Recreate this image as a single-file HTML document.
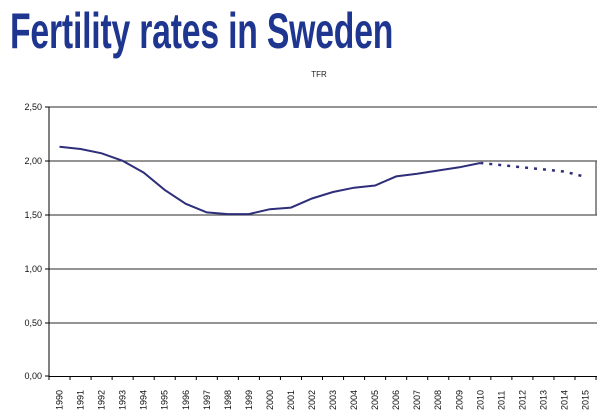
<!DOCTYPE html>
<html><head><meta charset="utf-8"><style>
html,body{margin:0;padding:0;background:#fff;}
body{width:600px;height:414px;overflow:hidden;position:relative;font-family:"Liberation Sans",sans-serif;}
.title{position:absolute;left:10px;top:2px;font-size:50px;font-weight:bold;color:#1f3690;transform:scaleX(0.675);transform-origin:0 0;white-space:nowrap;letter-spacing:-0.3px;}
</style></head><body>
<div class="title">Fertility rates in Sweden</div>
<svg width="600" height="414" style="position:absolute;left:0;top:0" font-family="Liberation Sans, sans-serif">
<text x="319" y="77" font-size="8" text-anchor="middle" fill="#222">TFR</text>
<g stroke="#555" stroke-width="1.3">
<line x1="49" y1="107" x2="597" y2="107"/>
<line x1="49" y1="161" x2="597" y2="161"/>
<line x1="49" y1="215" x2="597" y2="215"/>
<line x1="49" y1="269" x2="597" y2="269"/>
<line x1="49" y1="323" x2="597" y2="323"/>
<line x1="596" y1="161" x2="596" y2="215"/>
</g>
<g stroke="#000" stroke-width="1">
<line x1="49" y1="107" x2="49" y2="377"/>
<line x1="49" y1="376.5" x2="597" y2="376.5"/>
<line x1="45" y1="107" x2="49" y2="107"/><line x1="45" y1="161" x2="49" y2="161"/><line x1="45" y1="215" x2="49" y2="215"/><line x1="45" y1="269" x2="49" y2="269"/><line x1="45" y1="323" x2="49" y2="323"/><line x1="45" y1="376" x2="49" y2="376"/>
</g>
<g font-size="9" fill="#111" text-anchor="end">
<text x="42" y="110">2,50</text><text x="42" y="164">2,00</text><text x="42" y="218">1,50</text><text x="42" y="272">1,00</text><text x="42" y="326">0,50</text><text x="42" y="379">0,00</text>
</g>
<g id="t" stroke="#000" stroke-width="1"></g>
<g id="xl" font-size="9" fill="#111"></g>
<polyline id="solid" fill="none" stroke="#2e2e7a" stroke-width="2"/>
<polyline id="dash" fill="none" stroke="#2e2e7a" stroke-width="2.5" stroke-dasharray="3,6"/>
</svg>
<script>
var ns="http://www.w3.org/2000/svg",w=21.04,x0=49;
var v=[2.13,2.11,2.07,2.00,1.89,1.73,1.60,1.52,1.505,1.505,1.55,1.565,1.65,1.71,1.75,1.77,1.855,1.88,1.91,1.94,1.98,1.96,1.94,1.92,1.90,1.85];
function y(a){return 376-a*107.6;}
var t=document.getElementById('t'),xl=document.getElementById('xl'),s=[],d=[];
for(var i=0;i<=26;i++){var l=document.createElementNS(ns,'line');var xx=x0+i*w;l.setAttribute('x1',xx);l.setAttribute('x2',xx);l.setAttribute('y1',376);l.setAttribute('y2',380);t.appendChild(l);}
for(var i=0;i<26;i++){var cx=x0+(i+0.5)*w;var tx=document.createElementNS(ns,'text');tx.setAttribute('transform','translate('+(cx+3)+',410) rotate(-90)');tx.textContent=1990+i;xl.appendChild(tx);
var p=cx.toFixed(1)+','+y(v[i]).toFixed(1);if(i<=20)s.push(p);if(i>=20)d.push(p);}
document.getElementById('solid').setAttribute('points',s.join(' '));
document.getElementById('dash').setAttribute('points',d.join(' '));
</script>
</body></html>
